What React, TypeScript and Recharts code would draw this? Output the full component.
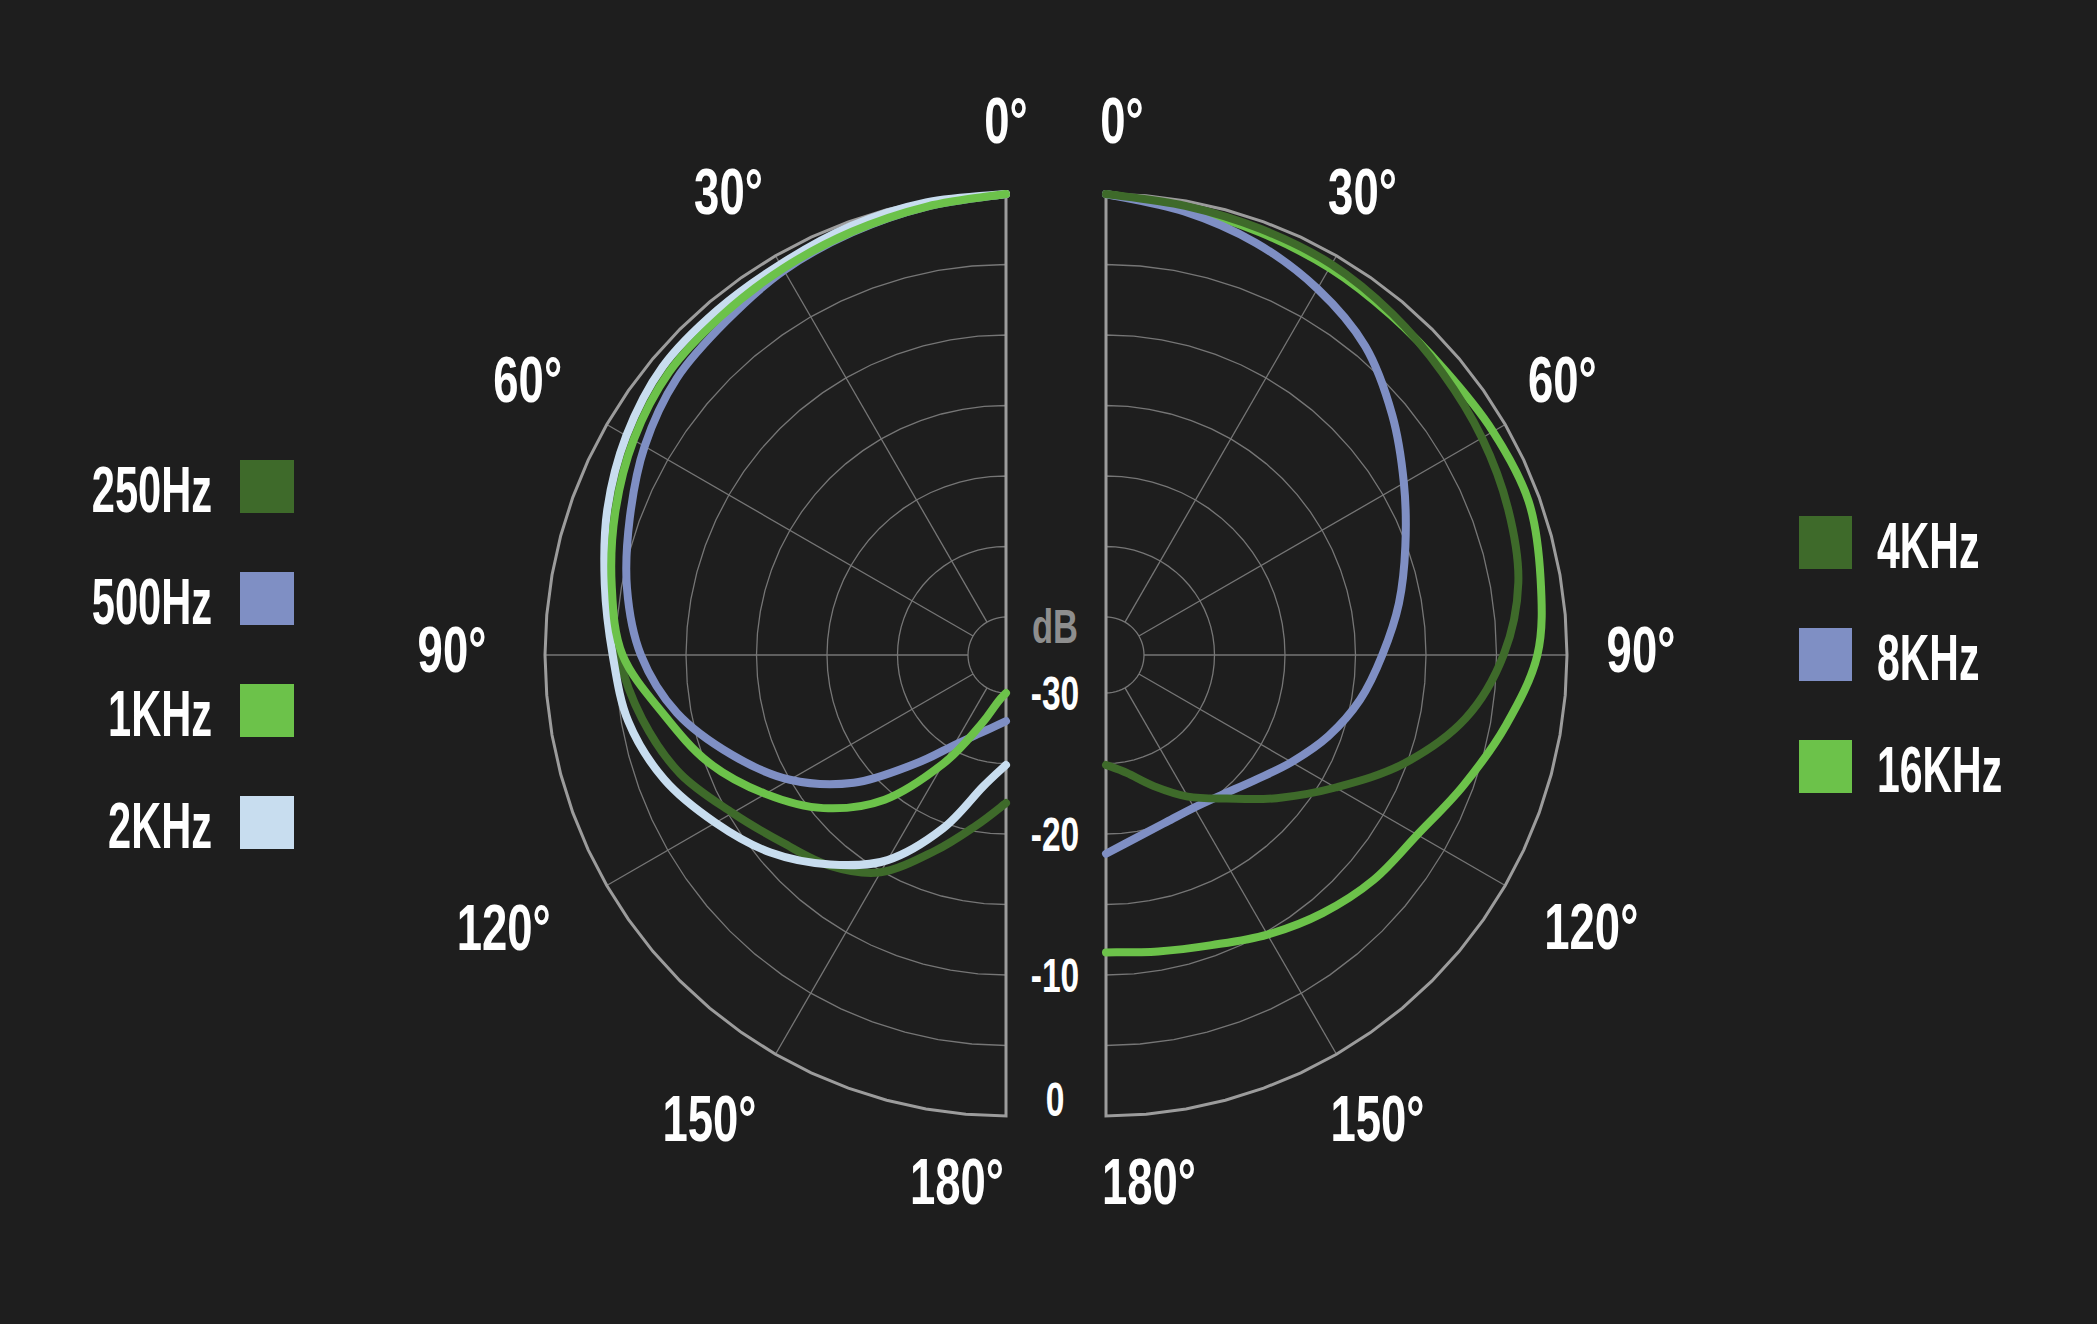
import React from "react";
import {
  RadarChart,
  Radar,
  PolarGrid,
  PolarAngleAxis,
  PolarRadiusAxis,
} from "recharts";

// angle from the front of the mic, degrees
const angles = [0, 10, 20, 30, 40, 50, 60, 70, 80, 90, 100, 110, 120, 130, 140, 150, 160, 170, 180];

// left half (dB)
const hz250 = [0, -0.3, -0.6, -0.9, -1.1, -1.3, -1.9, -2.9, -4.1, -5.2, -6.5, -8.1, -10.3, -12.0, -13.2, -14.9, -17.9, -20.4, -22.2];
const hz500 = [0, -0.4, -0.8, -1.2, -1.8, -2.2, -3.1, -4.3, -5.4, -6.8, -9.0, -12.0, -15.0, -18.6, -22.6, -25.3, -26.7, -27.5, -28.0];
const khz1 = [0, -0.4, -0.75, -1.05, -1.3, -1.5, -2.2, -3.2, -4.3, -5.5, -8.1, -10.3, -13.0, -15.8, -19.3, -23.8, -27.4, -29.3, -30];
const khz2 = [0, -0.1, -0.35, -0.7, -0.8, -0.9, -1.6, -2.6, -3.8, -4.8, -5.5, -6.9, -8.9, -10.9, -13.3, -15.9, -19.6, -23.2, -24.9];

// right half (dB)
const khz4 = [0, -0.35, -0.55, -0.7, -1.1, -1.55, -1.9, -2.35, -3.0, -4.5, -6.8, -10.2, -13.9, -16.9, -19.4, -21.1, -22.8, -24.2, -24.9];
const khz8 = [0, -0.75, -1.6, -2.7, -4.1, -6.2, -8.3, -10.1, -11.6, -13.1, -14.4, -15.9, -17.5, -18.9, -19.8, -20.2, -20.1, -19.6, -18.6];
const khz16 = [0, -0.5, -0.8, -1.0, -1.25, -1.3, -1.0, -0.8, -1.4, -2.1, -3.9, -5.7, -7.2, -7.9, -8.8, -9.8, -10.8, -11.35, -11.6];

const angleTicks = [0, 30, 60, 90, 120, 150, 180];
const dbTicks = [-30, -25, -20, -15, -10, -5, 0];
const dbLabels = [-30, -20, -10, 0];

const leftSeries = [
  { key: "hz250", name: "250Hz", color: "#3e6a2a" },
  { key: "hz500", name: "500Hz", color: "#7f8fc4" },
  { key: "khz2", name: "2KHz", color: "#c8ddef" },
  { key: "khz1", name: "1KHz", color: "#6cc24a" },
];
const leftLegend = ["hz250", "hz500", "khz1", "khz2"];

const rightSeries = [
  { key: "khz16", name: "16KHz", color: "#6cc24a" },
  { key: "khz8", name: "8KHz", color: "#7f8fc4" },
  { key: "khz4", name: "4KHz", color: "#3e6a2a" },
];
const rightLegend = ["khz4", "khz8", "khz16"];

const leftData = angles.map((a, i) => ({
  angle: a,
  hz250: hz250[i],
  hz500: hz500[i],
  khz1: khz1[i],
  khz2: khz2[i],
}));
const rightData = angles.map((a, i) => ({
  angle: a,
  khz4: khz4[i],
  khz8: khz8[i],
  khz16: khz16[i],
}));

const W = 2097;
const H = 1324;
const CY = 655;
const LEFT_CX = 1006;
const RIGHT_CX = 1106;
const OUTER = 461;
const INNER = 38;
const FONT = "'Liberation Sans', Arial, sans-serif";
const GRID = "#767676";
const AXIS = "#9c9c9c";

// fine angle list so the polygon grid reads as half circles
const fineSteps: number[] = [];
for (let t = 0; t <= 180; t += 5) fineSteps.push(t);
const leftFine = fineSteps.map((t) => 90 + t);
const rightFine = fineSteps.map((t) => 90 - t);
const leftSpokes = [30, 60, 90, 120, 150].map((t) => 90 + t);
const rightSpokes = [30, 60, 90, 120, 150].map((t) => 90 - t);

// label nudges around the tick point
const leftNudge: Record<number, [number, number]> = {
  0: [0, 0], 30: [-10, 0], 60: [-15, -8], 90: [-19, -6], 120: [-39, 5], 150: [-29, 0], 180: [-49, -9],
};
const rightNudge: Record<number, [number, number]> = {
  0: [16, 0], 30: [-11, 0], 60: [-7, -8], 90: [0, -6], 120: [22, 4], 150: [4, 0], 180: [43, -9],
};

// narrow text: the reference uses a condensed face, so squeeze horizontally
function NarrowText({ x, y, anchor = "middle", size, sx, fill, baseline, children }: any) {
  return (
    <text
      transform={`translate(${x},${y}) scale(${sx},1)`}
      textAnchor={anchor}
      dominantBaseline={baseline}
      fill={fill}
      fontSize={size}
      fontWeight={700}
      fontFamily={FONT}
    >
      {children}
    </text>
  );
}

function smoothPath(pts: { x: number; y: number }[]) {
  if (!pts || !pts.length) return "";
  let d = `M${pts[0].x},${pts[0].y}`;
  for (let i = 0; i < pts.length - 1; i++) {
    const p0 = pts[i - 1] || pts[i];
    const p1 = pts[i];
    const p2 = pts[i + 1];
    const p3 = pts[i + 2] || p2;
    const c1x = p1.x + (p2.x - p0.x) / 6;
    const c1y = p1.y + (p2.y - p0.y) / 6;
    const c2x = p2.x - (p3.x - p1.x) / 6;
    const c2y = p2.y - (p3.y - p1.y) / 6;
    d += ` C${c1x},${c1y} ${c2x},${c2y} ${p2.x},${p2.y}`;
  }
  return d;
}

const lineShape = (color: string) => (props: any) => (
  <path
    d={smoothPath(props.points)}
    stroke={color}
    strokeWidth={8}
    strokeLinecap="round"
    fill="none"
  />
);

const angleTick = (nudge: Record<number, [number, number]>) => (props: any) => {
  const { x, y, payload } = props;
  const n = nudge[payload.value] || [0, 0];
  return (
    <NarrowText x={x + n[0]} y={y + n[1]} size={65} sx={0.7} fill="#ffffff" baseline="central">
      {`${payload.value}°`}
    </NarrowText>
  );
};

const DbTick = (props: any) => {
  const { x, y, payload } = props;
  const v = payload.value;
  if (!dbLabels.includes(v)) return <g />;
  const ty = v === 0 ? y - 17 : y;
  return (
    <g>
      {v === -30 && (
        <NarrowText x={x - 51} y={ty - 67} size={48} sx={0.72} fill="#8e8e8e" baseline="central">
          dB
        </NarrowText>
      )}
      <NarrowText x={x - 51} y={ty} size={48} sx={0.7} fill="#ffffff" baseline="central">
        {v}
      </NarrowText>
    </g>
  );
};

function Half({ side }: { side: "left" | "right" }) {
  const isLeft = side === "left";
  const fine = isLeft ? leftFine : rightFine;
  const spokes = isLeft ? leftSpokes : rightSpokes;
  const series = isLeft ? leftSeries : rightSeries;
  return (
    <RadarChart
      width={W}
      height={H}
      data={isLeft ? leftData : rightData}
      cx={isLeft ? LEFT_CX : RIGHT_CX}
      cy={CY}
      innerRadius={INNER}
      outerRadius={OUTER}
      startAngle={90}
      endAngle={isLeft ? 270 : -90}
      margin={{ top: 0, right: 0, bottom: 0, left: 0 }}
      style={{ position: "absolute", left: 0, top: 0 }}
    >
      <PolarGrid gridType="polygon" polarAngles={fine} radialLines={false} stroke={GRID} strokeWidth={1.3} />
      <PolarGrid gridType="polygon" polarAngles={spokes} polarRadius={[]} radialLines stroke={GRID} strokeWidth={1.3} />
      <PolarGrid gridType="polygon" polarAngles={fine} polarRadius={[OUTER]} radialLines={false} stroke={AXIS} strokeWidth={3} />
      <PolarAngleAxis
        dataKey="angle"
        type="number"
        domain={[0, 180]}
        ticks={angleTicks}
        tickSize={74}
        tickLine={false}
        axisLine={false}
        tick={angleTick(isLeft ? leftNudge : rightNudge)}
      />
      <PolarRadiusAxis
        type="number"
        domain={[-30, 0]}
        ticks={dbTicks}
        angle={isLeft ? 270 : -90}
        axisLine={false}
        tickLine={false}
        tick={isLeft ? false : DbTick}
      />
      {series.map((s) => (
        <Radar
          key={s.key}
          dataKey={s.key}
          name={s.name}
          stroke={s.color}
          fill="none"
          dot={false}
          isAnimationActive={false}
          shape={lineShape(s.color)}
        />
      ))}
    </RadarChart>
  );
}

const allSeries = [...leftSeries, ...rightSeries];
const find = (k: string) => allSeries.find((s) => s.key === k)!;

function Legends() {
  return (
    <svg width={W} height={H} style={{ position: "absolute", left: 0, top: 0 }}>
      {leftLegend.map((k, i) => {
        const s = find(k);
        return (
          <g key={k}>
            <rect x={240} y={460 + i * 112} width={54} height={53} fill={s.color} />
            <NarrowText x={212} y={512 + i * 112} anchor="end" size={65} sx={0.64} fill="#ffffff">
              {s.name}
            </NarrowText>
          </g>
        );
      })}
      {rightLegend.map((k, i) => {
        const s = find(k);
        return (
          <g key={k}>
            <rect x={1799} y={516 + i * 112} width={53} height={53} fill={s.color} />
            <NarrowText x={1877} y={568 + i * 112} anchor="start" size={65} sx={0.63} fill="#ffffff">
              {s.name}
            </NarrowText>
          </g>
        );
      })}
    </svg>
  );
}

export default function App() {
  return (
    <div
      style={{
        position: "fixed",
        left: 0,
        top: 0,
        width: W,
        height: H,
        background: "#1e1e1e",
        overflow: "hidden",
      }}
    >
      <Half side="left" />
      <Half side="right" />
      <Legends />
    </div>
  );
}
